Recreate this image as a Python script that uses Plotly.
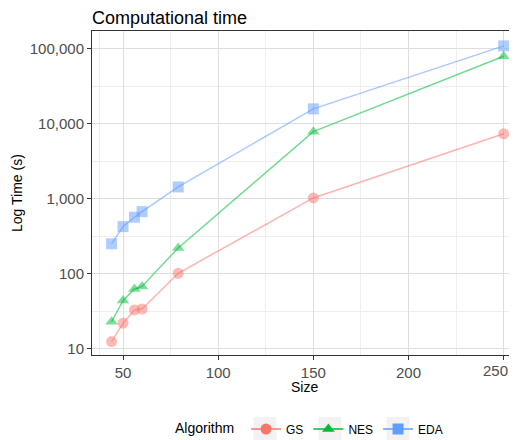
import plotly.graph_objects as go

sizes = [44, 50, 56, 60, 79, 150, 250]
gs_time = [12.5, 22, 33, 34, 102, 1030, 7400]
nes_time = [23, 44, 63, 68, 222, 7900, 80000]
eda_time = [252, 427, 570, 676, 1445, 15900, 110000]

series = [
    ("GS", gs_time, "248,118,109", "circle"),
    ("NES", nes_time, "0,186,56", "triangle-up"),
    ("EDA", eda_time, "97,156,255", "square"),
]

y_ticks = [10, 100, 1000, 10000, 100000]
y_labels = ["10", "100", "1,000", "10,000", "100,000"]
y_minor = [3.162, 31.62, 316.2, 3162, 31623, 316228]
x_ticks = [50, 100, 150, 200, 250]
x_labels = ["50", "100", "150", "200", ""]
x_last_label = "250"

W, H = 509, 432
L, T, B = 84, 23, 85
PH = H - T - B
PW = W - L

fig = go.Figure()
for name, vals, rgb, sym in series:
    fig.add_trace(go.Scatter(
        x=sizes, y=vals, name=name, mode="lines+markers", showlegend=False,
        line=dict(color=f"rgba({rgb},0.55)", width=1.5),
        marker=dict(color=f"rgba({rgb},0.5)", size=11, symbol=sym, line=dict(width=0)),
        cliponaxis=False,
    ))
for name, vals, rgb, sym in series:
    fig.add_trace(go.Scatter(
        x=[None], y=[None], name=name, mode="lines+markers",
        line=dict(color=f"rgb({rgb})", width=1.5),
        marker=dict(color=f"rgb({rgb})", size=11, symbol=sym, line=dict(width=0)),
    ))

# grey legend key backgrounds (page px centres -> paper coords)
key_shapes = []
for cx in [265, 330, 398]:
    fx = cx - 8 - L
    key_shapes.append(dict(
        type="rect", xref="paper", yref="paper", layer="below",
        x0=(fx - 11.5) / PW, x1=(fx + 11.5) / PW,
        y0=-(432 - 347) / PH, y1=-(409 - 347) / PH,
        fillcolor="#F2F2F2", line=dict(width=0),
    ))

fig.update_layout(
    width=W, height=H,
    margin=dict(l=L, r=0, t=T, b=B, autoexpand=False),
    paper_bgcolor="white", plot_bgcolor="white",
    font=dict(family="Liberation Sans, Arial, sans-serif", color="black"),
    title=dict(text="Computational time", x=L / W, xref="container", xanchor="left",
               y=1 - 10 / H, yref="container", yanchor="middle",
               font=dict(size=18, color="black"), automargin=False),
    showlegend=True,
    legend=dict(orientation="h", x=0.5 + 6 / PW, xref="paper", xanchor="center",
                y=-74 / PH, yref="paper", yanchor="middle", itemwidth=30,
                bgcolor="rgba(0,0,0,0)",
                title=dict(text="Algorithm ", font=dict(size=14, color="black"), side="left"),
                font=dict(size=12, color="black"), tracegroupgap=0),
    shapes=key_shapes,
    annotations=[
        dict(text="Size", xref="paper", yref="paper", x=0.5, y=-32 / PH,
             xanchor="center", yanchor="middle", showarrow=False,
             font=dict(size=14, color="black")),
        dict(text="Log Time (s)", xref="paper", yref="paper", x=-(L - 9) / PW, y=0.5,
             xanchor="center", yanchor="middle", showarrow=False, textangle=-90,
             font=dict(size=14, color="black")),
        dict(text=x_last_label, xref="x", yref="paper", x=x_ticks[-1], y=-15 / PH,
             xanchor="right", yanchor="middle", showarrow=False, xshift=6,
             font=dict(size=15, color="#4D4D4D")),
    ],
)
fig.update_xaxes(
    range=[33.7, 257], tickvals=x_ticks, ticktext=x_labels,
    ticks="outside", ticklen=4, tickcolor="#333333",
    tickfont=dict(size=15, color="#4D4D4D"), automargin=False,
    showgrid=True, gridcolor="#DEDEDE", gridwidth=1,
    minor=dict(tickvals=[37.5, 75, 125, 175, 225], showgrid=True, gridcolor="#EEEEEE", gridwidth=1),
    showline=True, linecolor="#333333", linewidth=1, mirror=True, zeroline=False,
)
fig.update_yaxes(
    type="log", range=[0.918, 5.24], tickvals=y_ticks, ticktext=y_labels,
    ticks="outside", ticklen=4, tickcolor="#333333", automargin=False,
    tickfont=dict(size=15, color="#4D4D4D"),
    showgrid=True, gridcolor="#DEDEDE", gridwidth=1,
    minor=dict(tickvals=y_minor, showgrid=True, gridcolor="#EEEEEE", gridwidth=1),
    showline=True, linecolor="#333333", linewidth=1, mirror=True, zeroline=False,
)

fig.write_html("out.html")
